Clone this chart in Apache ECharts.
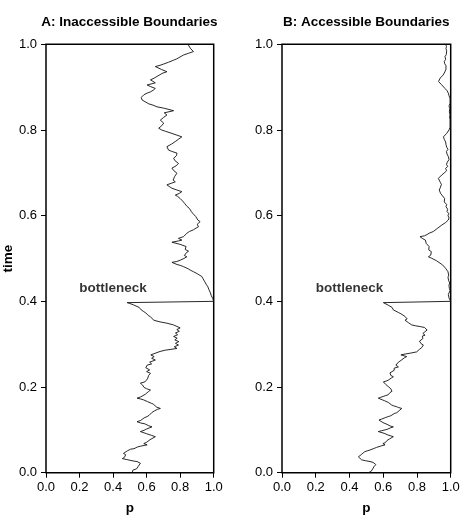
<!DOCTYPE html>
<html>
<head>
<meta charset="utf-8">
<script src="https://cdn.jsdelivr.net/npm/echarts@6/dist/echarts.min.js"></script>
<style>
html,body{margin:0;padding:0;background:#fff;}
#chart{width:474px;height:529px;}
</style>
</head>
<body>
<div id="chart"></div>
<script>
// ---- data: [p, time] ----
const titles = ['A: Inaccessible Boundaries', 'B: Accessible Boundaries'];
const bottleneckLabel = 'bottleneck';
const bottleneckPos = [0.40, 0.43];

const walkA_before = [[0.514,0.000],[0.525,0.003],[0.518,0.006],[0.540,0.009],[0.530,0.012],[0.550,0.015],[0.545,0.018],[0.563,0.022],[0.543,0.026],[0.525,0.027],[0.500,0.029],[0.478,0.031],[0.455,0.033],[0.468,0.036],[0.458,0.039],[0.475,0.042],[0.462,0.045],[0.464,0.049],[0.485,0.051],[0.478,0.053],[0.505,0.055],[0.525,0.056],[0.518,0.058],[0.545,0.060],[0.565,0.062],[0.603,0.065],[0.583,0.068],[0.600,0.071],[0.592,0.074],[0.620,0.077],[0.612,0.080],[0.652,0.084],[0.630,0.087],[0.636,0.089],[0.600,0.091],[0.606,0.093],[0.563,0.096],[0.585,0.099],[0.600,0.102],[0.595,0.104],[0.632,0.107],[0.610,0.110],[0.616,0.112],[0.590,0.114],[0.565,0.116],[0.543,0.119],[0.565,0.122],[0.560,0.125],[0.585,0.128],[0.603,0.131],[0.615,0.134],[0.605,0.137],[0.630,0.140],[0.645,0.144],[0.640,0.146],[0.665,0.148],[0.682,0.150],[0.660,0.153],[0.668,0.156],[0.640,0.160],[0.628,0.162],[0.632,0.164],[0.605,0.166],[0.610,0.168],[0.582,0.170],[0.565,0.172],[0.543,0.174],[0.565,0.177],[0.575,0.180],[0.592,0.183],[0.585,0.186],[0.610,0.189],[0.623,0.193],[0.600,0.196],[0.585,0.199],[0.595,0.202],[0.575,0.205],[0.563,0.209],[0.590,0.212],[0.582,0.215],[0.605,0.219],[0.598,0.223],[0.612,0.227],[0.623,0.232],[0.600,0.236],[0.618,0.240],[0.595,0.245],[0.603,0.251],[0.630,0.254],[0.618,0.258],[0.652,0.263],[0.630,0.267],[0.645,0.271],[0.625,0.275],[0.632,0.279],[0.680,0.283],[0.711,0.286],[0.781,0.290],[0.765,0.294],[0.790,0.298],[0.772,0.302],[0.792,0.306],[0.768,0.310],[0.782,0.314],[0.761,0.318],[0.785,0.322],[0.772,0.326],[0.795,0.330],[0.780,0.334],[0.800,0.338],[0.802,0.341],[0.760,0.345],[0.721,0.349],[0.680,0.352],[0.642,0.356],[0.650,0.359],[0.623,0.364],[0.610,0.367],[0.618,0.370],[0.595,0.373],[0.583,0.376],[0.568,0.380],[0.575,0.384],[0.555,0.386],[0.543,0.388],[0.520,0.392],[0.500,0.395],[0.484,0.397],[0.480,0.400]];

const walkA_after = [[0.480,0.400],[1.000,0.400],[0.994,0.407],[0.996,0.410],[0.986,0.413],[0.988,0.416],[0.980,0.420],[0.984,0.423],[0.972,0.427],[0.976,0.430],[0.965,0.434],[0.968,0.437],[0.955,0.440],[0.958,0.443],[0.945,0.447],[0.948,0.450],[0.936,0.453],[0.929,0.458],[0.912,0.462],[0.915,0.464],[0.895,0.466],[0.880,0.469],[0.872,0.471],[0.860,0.473],[0.848,0.476],[0.840,0.478],[0.820,0.481],[0.800,0.484],[0.781,0.486],[0.751,0.491],[0.780,0.493],[0.800,0.496],[0.822,0.500],[0.840,0.504],[0.825,0.507],[0.820,0.510],[0.838,0.514],[0.850,0.517],[0.830,0.521],[0.840,0.525],[0.835,0.528],[0.800,0.533],[0.751,0.538],[0.790,0.541],[0.810,0.543],[0.790,0.547],[0.820,0.551],[0.828,0.555],[0.840,0.559],[0.855,0.563],[0.879,0.567],[0.895,0.571],[0.909,0.574],[0.902,0.580],[0.919,0.586],[0.905,0.590],[0.899,0.594],[0.893,0.598],[0.889,0.602],[0.876,0.605],[0.882,0.607],[0.866,0.610],[0.870,0.613],[0.855,0.617],[0.860,0.619],[0.840,0.622],[0.846,0.625],[0.828,0.628],[0.832,0.631],[0.815,0.634],[0.820,0.637],[0.800,0.640],[0.805,0.643],[0.785,0.645],[0.771,0.648],[0.795,0.652],[0.810,0.656],[0.780,0.660],[0.751,0.664],[0.735,0.668],[0.721,0.672],[0.750,0.676],[0.771,0.679],[0.758,0.683],[0.751,0.687],[0.768,0.692],[0.781,0.699],[0.762,0.705],[0.751,0.711],[0.775,0.716],[0.790,0.722],[0.770,0.728],[0.761,0.734],[0.778,0.740],[0.781,0.746],[0.750,0.750],[0.731,0.753],[0.721,0.761],[0.748,0.767],[0.771,0.773],[0.792,0.779],[0.810,0.784],[0.780,0.788],[0.751,0.792],[0.712,0.797],[0.690,0.800],[0.672,0.804],[0.690,0.810],[0.702,0.816],[0.682,0.823],[0.700,0.829],[0.721,0.835],[0.705,0.840],[0.711,0.843],[0.761,0.845],[0.702,0.851],[0.662,0.854],[0.638,0.858],[0.613,0.861],[0.595,0.865],[0.573,0.870],[0.568,0.876],[0.583,0.882],[0.603,0.886],[0.623,0.889],[0.640,0.893],[0.652,0.897],[0.625,0.901],[0.603,0.905],[0.652,0.910],[0.623,0.917],[0.645,0.921],[0.662,0.925],[0.680,0.929],[0.692,0.932],[0.721,0.936],[0.690,0.941],[0.652,0.948],[0.680,0.951],[0.702,0.954],[0.730,0.958],[0.761,0.963],[0.780,0.966],[0.790,0.969],[0.820,0.975],[0.850,0.979],[0.879,0.983],[0.870,0.987],[0.860,0.991],[0.850,0.998],[0.856,1.000]];

const walkB_before = [[0.512,0.000],[0.528,0.003],[0.522,0.006],[0.538,0.009],[0.530,0.011],[0.545,0.014],[0.540,0.017],[0.556,0.019],[0.561,0.022],[0.540,0.024],[0.522,0.026],[0.495,0.028],[0.472,0.030],[0.462,0.032],[0.468,0.034],[0.453,0.037],[0.462,0.039],[0.458,0.041],[0.472,0.043],[0.468,0.045],[0.490,0.049],[0.505,0.051],[0.522,0.053],[0.530,0.055],[0.548,0.057],[0.560,0.059],[0.571,0.061],[0.592,0.063],[0.611,0.065],[0.598,0.068],[0.612,0.070],[0.605,0.072],[0.622,0.075],[0.618,0.077],[0.638,0.079],[0.645,0.081],[0.660,0.084],[0.645,0.086],[0.628,0.088],[0.620,0.090],[0.605,0.092],[0.595,0.093],[0.571,0.096],[0.590,0.098],[0.600,0.099],[0.622,0.101],[0.615,0.103],[0.645,0.105],[0.660,0.107],[0.642,0.109],[0.645,0.111],[0.622,0.113],[0.615,0.115],[0.598,0.117],[0.591,0.119],[0.600,0.121],[0.575,0.123],[0.590,0.125],[0.600,0.127],[0.615,0.129],[0.630,0.131],[0.645,0.133],[0.638,0.135],[0.665,0.138],[0.680,0.140],[0.672,0.142],[0.695,0.145],[0.690,0.147],[0.710,0.150],[0.692,0.152],[0.680,0.154],[0.662,0.156],[0.650,0.158],[0.655,0.160],[0.640,0.162],[0.630,0.164],[0.620,0.166],[0.608,0.168],[0.595,0.170],[0.585,0.172],[0.571,0.174],[0.585,0.176],[0.600,0.178],[0.615,0.180],[0.630,0.182],[0.625,0.184],[0.640,0.187],[0.652,0.190],[0.660,0.193],[0.645,0.196],[0.650,0.198],[0.630,0.201],[0.636,0.203],[0.615,0.206],[0.620,0.208],[0.601,0.212],[0.618,0.214],[0.630,0.216],[0.625,0.219],[0.648,0.221],[0.660,0.224],[0.645,0.227],[0.652,0.230],[0.640,0.233],[0.650,0.236],[0.665,0.239],[0.672,0.241],[0.665,0.244],[0.690,0.247],[0.675,0.251],[0.685,0.253],[0.670,0.255],[0.690,0.258],[0.705,0.262],[0.700,0.265],[0.725,0.268],[0.739,0.271],[0.705,0.275],[0.730,0.277],[0.760,0.279],[0.798,0.282],[0.805,0.285],[0.815,0.288],[0.828,0.292],[0.822,0.295],[0.838,0.298],[0.825,0.301],[0.830,0.304],[0.815,0.307],[0.820,0.310],[0.835,0.313],[0.840,0.316],[0.832,0.319],[0.848,0.321],[0.835,0.325],[0.845,0.327],[0.840,0.329],[0.860,0.333],[0.855,0.335],[0.868,0.337],[0.845,0.339],[0.820,0.341],[0.790,0.343],[0.769,0.345],[0.760,0.348],[0.750,0.350],[0.745,0.353],[0.729,0.356],[0.742,0.359],[0.735,0.362],[0.728,0.365],[0.720,0.368],[0.705,0.371],[0.690,0.374],[0.675,0.377],[0.660,0.380],[0.668,0.382],[0.665,0.384],[0.652,0.386],[0.660,0.388],[0.630,0.391],[0.622,0.394],[0.601,0.397],[0.590,0.400]];

const walkB_after = [[0.590,0.400],[1.000,0.400],[0.996,0.404],[0.990,0.408],[0.994,0.412],[0.986,0.416],[0.990,0.420],[0.996,0.425],[0.992,0.430],[0.996,0.434],[0.990,0.438],[0.994,0.443],[0.988,0.448],[0.992,0.452],[0.984,0.456],[0.988,0.461],[0.982,0.465],[0.984,0.469],[0.975,0.473],[0.970,0.477],[0.966,0.481],[0.952,0.485],[0.937,0.489],[0.928,0.492],[0.915,0.495],[0.905,0.498],[0.885,0.501],[0.868,0.504],[0.882,0.508],[0.876,0.512],[0.885,0.516],[0.870,0.520],[0.880,0.524],[0.872,0.528],[0.865,0.531],[0.855,0.535],[0.866,0.539],[0.850,0.543],[0.835,0.546],[0.845,0.548],[0.818,0.551],[0.845,0.553],[0.860,0.556],[0.872,0.559],[0.897,0.563],[0.905,0.566],[0.920,0.570],[0.930,0.574],[0.947,0.578],[0.958,0.581],[0.970,0.584],[0.978,0.587],[0.986,0.590],[0.990,0.595],[0.984,0.600],[0.988,0.605],[0.978,0.610],[0.982,0.615],[0.972,0.621],[0.976,0.626],[0.962,0.632],[0.970,0.636],[0.964,0.640],[0.952,0.646],[0.940,0.652],[0.946,0.656],[0.932,0.660],[0.938,0.665],[0.930,0.669],[0.945,0.673],[0.938,0.678],[0.945,0.682],[0.927,0.687],[0.935,0.691],[0.947,0.695],[0.960,0.699],[0.976,0.705],[0.970,0.710],[0.982,0.715],[0.975,0.720],[0.980,0.725],[0.990,0.731],[0.986,0.738],[0.978,0.744],[0.975,0.750],[0.984,0.755],[0.976,0.760],[0.972,0.766],[0.970,0.772],[0.962,0.778],[0.957,0.784],[0.968,0.788],[0.976,0.792],[0.985,0.796],[0.990,0.800],[0.996,0.806],[0.992,0.810],[0.996,0.815],[0.996,0.825],[0.993,0.830],[0.996,0.835],[0.992,0.842],[0.994,0.850],[0.990,0.856],[0.996,0.862],[0.996,0.874],[0.990,0.880],[0.986,0.886],[0.978,0.892],[0.966,0.897],[0.958,0.901],[0.945,0.906],[0.935,0.910],[0.928,0.913],[0.927,0.917],[0.937,0.921],[0.945,0.925],[0.955,0.928],[0.962,0.932],[0.966,0.936],[0.972,0.942],[0.968,0.946],[0.972,0.950],[0.964,0.955],[0.962,0.960],[0.970,0.965],[0.966,0.971],[0.974,0.976],[0.970,0.980],[0.976,0.985],[0.972,0.990],[0.975,0.995],[0.970,1.000]];

// ---- chart ----
const FONT = '"Liberation Sans", Arial, Helvetica, sans-serif';
const chart = echarts.init(document.getElementById('chart'), null, {renderer: 'canvas'});

const grids = [
  {left: 45, top: 44.3, width: 168.7, height: 428.4, show: true, borderColor: '#000', borderWidth: 1.5, backgroundColor: 'transparent'},
  {left: 282, top: 44.3, width: 168.7, height: 428.4, show: true, borderColor: '#000', borderWidth: 1.5, backgroundColor: 'transparent'}
];

function makeAxis(i, extra) {
  return Object.assign({
    type: 'value', min: 0, max: 1, interval: 0.2, gridIndex: i,
    axisLine: {show: false},
    axisTick: {show: true, inside: false, length: 5, lineStyle: {color: '#000', width: 1}},
    splitLine: {show: false},
    nameTextStyle: {color: '#000', fontSize: 13.5, fontWeight: 'bold', fontFamily: FONT}
  }, extra);
}

const xAxes = grids.map((g, i) => makeAxis(i, {
  name: 'p', nameLocation: 'middle', nameGap: 29,
  axisLabel: {color: '#000', fontSize: 13, fontFamily: FONT, margin: 8, formatter: v => v.toFixed(1)}
}));
const yAxes = grids.map((g, i) => makeAxis(i, {
  name: i === 0 ? 'time' : '', nameLocation: 'middle', nameGap: 31, nameRotate: 90,
  axisLabel: {color: '#000', fontSize: 13, fontFamily: FONT, margin: 9, formatter: v => v.toFixed(1)}
}));

const walks = [walkA_before.concat(walkA_after.slice(1)), walkB_before.concat(walkB_after.slice(1))];

const series = [];
walks.forEach((w, i) => {
  series.push({
    type: 'line', xAxisIndex: i, yAxisIndex: i, data: w,
    symbol: 'none', silent: true,
    lineStyle: {color: '#111', width: 0.9}
  });
  series.push({
    type: 'scatter', xAxisIndex: i, yAxisIndex: i, data: [bottleneckPos],
    symbolSize: 0, silent: true, itemStyle: {color: 'transparent'},
    label: {show: true, position: 'inside', formatter: bottleneckLabel,
      color: '#000', fontSize: 13.5, fontWeight: 'bold', fontFamily: FONT}
  });
});

const graphics = grids.map((g, i) => ({
  type: 'text',
  x: g.left + g.width / 2, y: 22,
  style: {text: titles[i], fill: '#000', font: 'bold 13.5px ' + FONT, textAlign: 'center', textVerticalAlign: 'middle'}
}));

chart.setOption({
  animation: false,
  backgroundColor: '#fff',
  grid: grids,
  xAxis: xAxes,
  yAxis: yAxes,
  series: series,
  graphic: graphics
});
</script>
</body>
</html>
